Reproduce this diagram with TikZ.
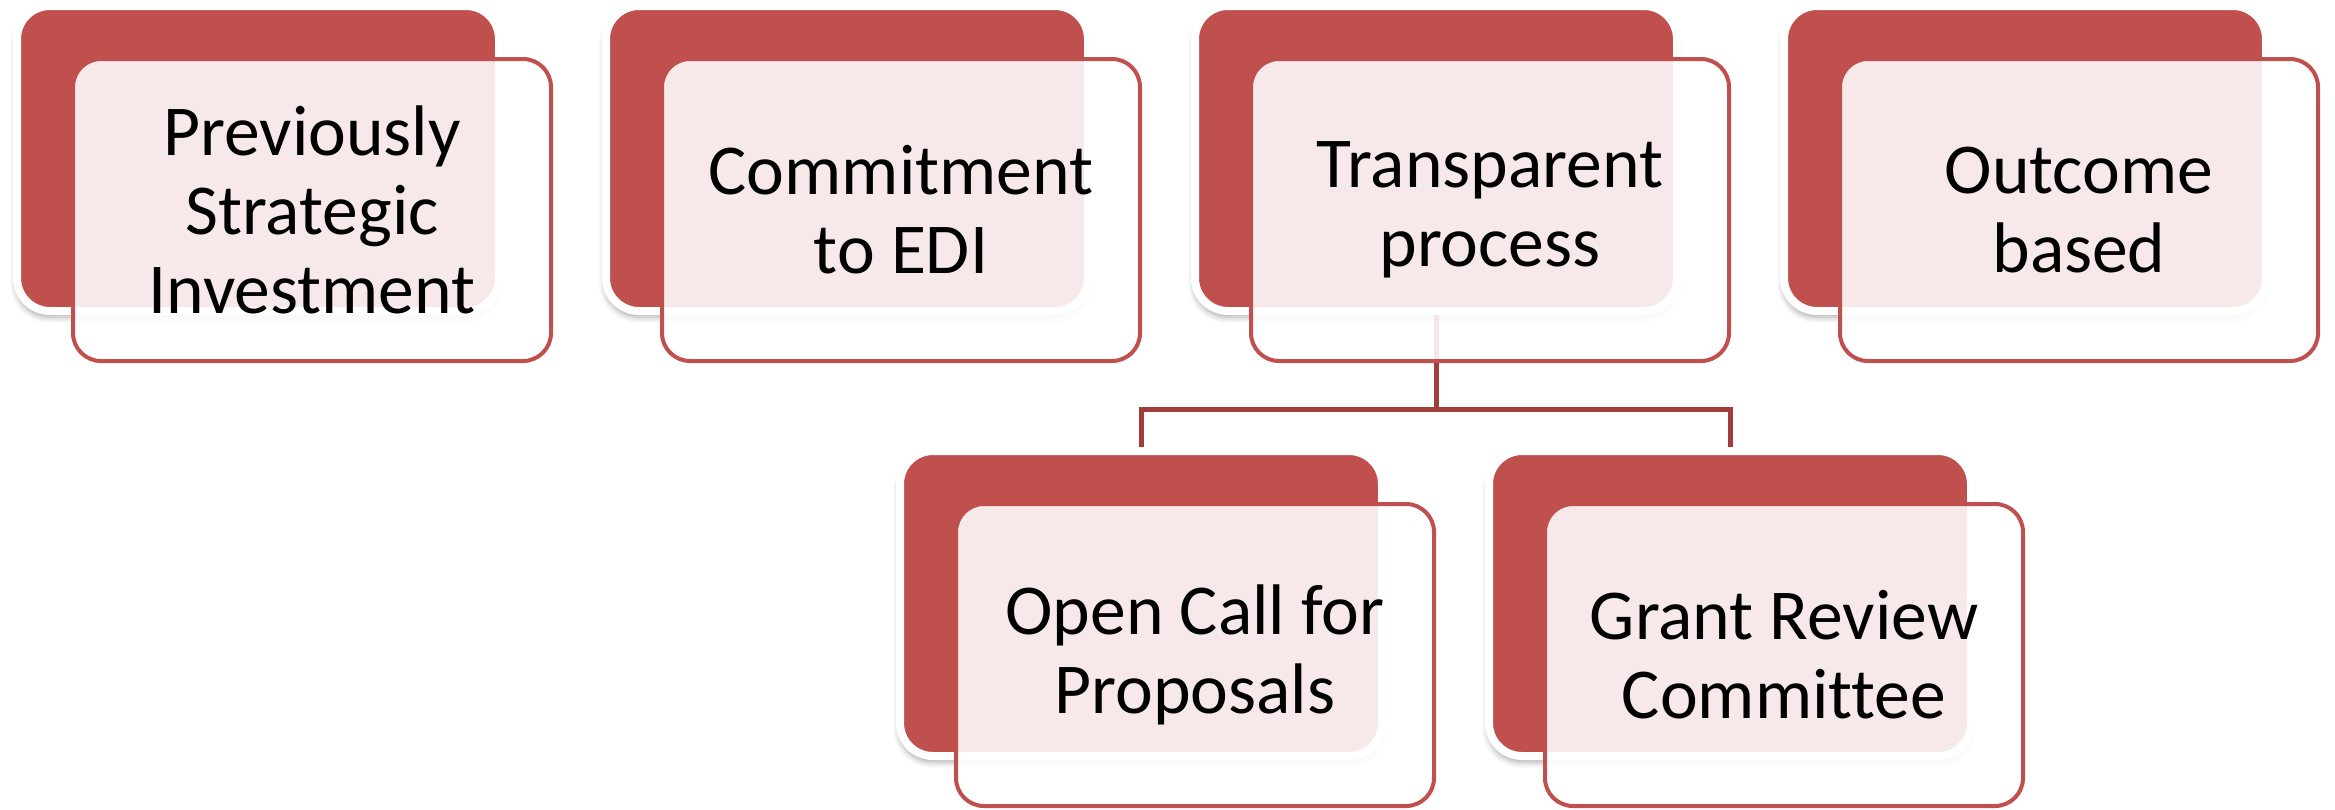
\documentclass[tikz,border=0pt]{standalone}
\usepackage{fontspec}
\setmainfont[Ligatures=NoCommon]{Carlito}
\usetikzlibrary{shadows.blur}
\definecolor{boxred}{RGB}{192,80,77}
\definecolor{linkred}{RGB}{160,62,60}
\pgfdeclarelayer{bg}
\pgfsetlayers{bg,main}
\tikzset{
 backbox/.style={rectangle, rounded corners=16.5pt, minimum width=241pt, minimum height=152.5pt,
   fill=boxred, draw=white, line width=4pt,
   blur shadow={shadow xshift=-0.5pt, shadow yshift=-3pt, shadow blur radius=3pt, shadow opacity=35}},
 frontbox/.style={rectangle, rounded corners=14pt, minimum width=239pt, minimum height=151pt,
   draw=boxred, line width=2pt, fill=white, fill opacity=0.88, text opacity=1, align=center,
   font=\fontsize{35.8pt}{39.5pt}\selectfont, inner sep=0pt},
 link/.style={draw=linkred, line width=2.5pt}
}
\begin{document}
\begin{tikzpicture}[x=0.5pt,y=-0.5pt]
\useasboundingbox (0,0) rectangle (2335,809);
% back boxes
\node[backbox] (b1) at (258,158.5) {};
\node[backbox] (b2) at (847,158.5) {};
\node[backbox] (b3) at (1436,158.5) {};
\node[backbox] (b4) at (2025,158.5) {};
\node[backbox] (b5) at (1141,603.5) {};
\node[backbox] (b6) at (1730,603.5) {};
% front boxes
\node[frontbox] (f1) at (312,210) {Previously\\Strategic\\Investment};
\node[frontbox] (f2) at (901,210) {Commitment\\to EDI};
\node[frontbox] (f3) at (1490,210) {Transparent\\process};
\node[frontbox] (f4) at (2079,210) {Outcome\\based};
\node[frontbox] (f5) at (1195,655) {Open Call for\\Proposals};
\node[frontbox] (f6) at (1784,655) {Grant Review\\Committee};
% connectors
\begin{pgfonlayer}{bg}
\path (b3.south) ++(0,94) coordinate (j);
\draw[link] (b3.south) -- (j);
\draw[link] (b5.north) |- (j) -| (b6.north);
\end{pgfonlayer}
\end{tikzpicture}
\end{document}
